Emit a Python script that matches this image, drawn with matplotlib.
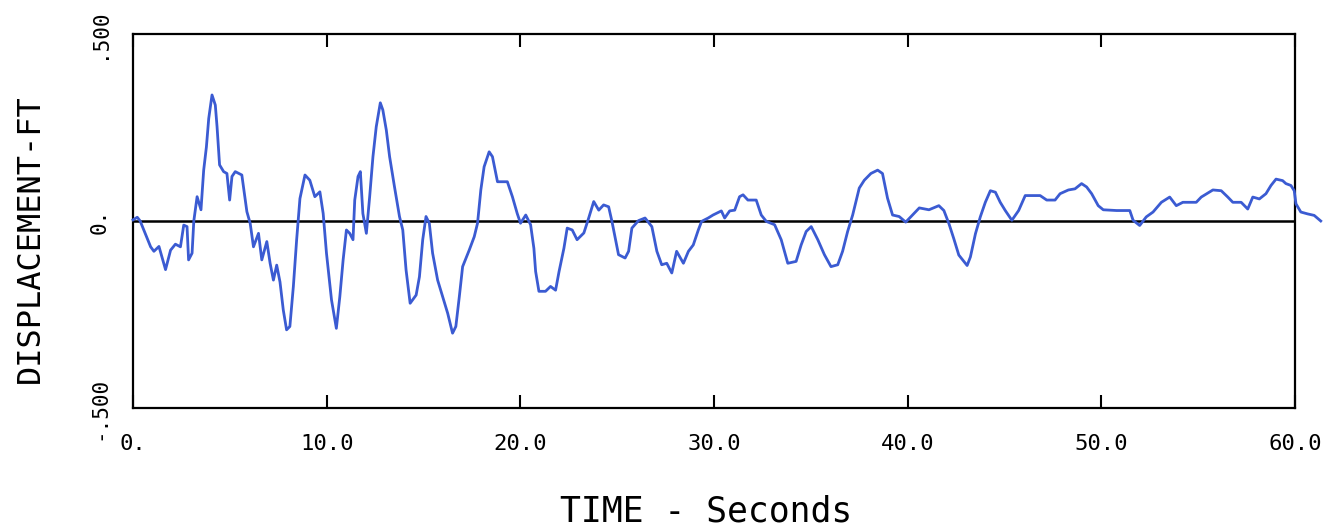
import matplotlib
matplotlib.use("Agg")
import matplotlib.pyplot as plt

plt.rcParams["font.family"] = ["DejaVu Sans Mono"]

# displacement record (seconds, feet)
time_s = [
    0.0, 0.22, 0.37, 0.91, 1.08, 1.34, 1.68, 1.94, 2.19, 2.45,
    2.62, 2.79, 2.87, 3.05, 3.14, 3.31, 3.51, 3.65, 3.79, 3.91,
    4.08, 4.25, 4.34, 4.47, 4.68, 4.85, 4.99, 5.11, 5.28, 5.62,
    5.88, 6.05, 6.22, 6.48, 6.65, 6.91, 7.08, 7.25, 7.42, 7.59,
    7.76, 7.93, 8.10, 8.28, 8.45, 8.62, 8.88, 9.13, 9.39, 9.65,
    9.82, 9.99, 10.25, 10.50, 10.68, 10.85, 11.02, 11.19, 11.36, 11.45,
    11.62, 11.74, 11.87, 12.05, 12.22, 12.39, 12.56, 12.77, 12.90, 13.08,
    13.25, 13.50, 13.76, 13.93, 14.10, 14.31, 14.62, 14.79, 14.96, 15.13,
    15.30, 15.47, 15.73, 15.99, 16.25, 16.50, 16.67, 16.85, 17.02, 17.36,
    17.62, 17.79, 17.96, 18.13, 18.39, 18.56, 18.82, 19.33, 19.59, 19.84,
    20.01,
    20.28, 20.53, 20.70, 20.79, 20.96, 21.30, 21.56, 21.82, 22.00, 22.25,
    22.42, 22.68, 22.93, 23.28, 23.53, 23.79, 24.05, 24.30, 24.56, 24.73,
    25.07, 25.41, 25.59, 25.76, 26.10, 26.44, 26.79, 27.05, 27.30, 27.56,
    27.82, 28.07, 28.42, 28.68, 28.93, 29.19, 29.36, 29.70, 29.95, 30.38,
    30.55, 30.81, 31.07, 31.32, 31.50, 31.75, 32.18, 32.44, 32.70, 33.13,
    33.47, 33.81, 34.24, 34.50, 34.76, 35.02, 35.36, 35.70, 36.04, 36.39,
    36.64, 36.90, 37.16, 37.50, 37.76, 38.10, 38.45, 38.70, 38.96, 39.22,
    39.56,
    39.90, 40.16, 40.60, 41.10, 41.61, 41.87, 42.13, 42.38, 42.64, 43.07,
    43.24, 43.50, 43.75, 44.01, 44.27, 44.53, 44.78, 45.04, 45.38, 45.73,
    46.07, 46.84, 47.18, 47.61, 47.87, 48.30, 48.64, 48.98, 49.24, 49.50,
    49.84, 50.10, 50.79, 51.47, 51.64, 51.98, 52.32, 52.67, 53.10, 53.53,
    53.87, 54.21, 54.90, 55.16, 55.76, 56.19, 56.53, 56.79, 57.22, 57.56,
    57.82, 58.16, 58.50, 58.76, 59.02, 59.36, 59.53, 59.79, 59.96, 60.05,
    60.30, 60.65, 60.99, 61.33,
]
disp_ft = [
    0.003, 0.010, 0.000, -0.069, -0.081, -0.068, -0.130, -0.078, -0.062, -0.069,
    -0.011, -0.015, -0.104, -0.086, 0.000, 0.065, 0.030, 0.136, 0.198, 0.274,
    0.337, 0.310, 0.252, 0.150, 0.132, 0.127, 0.056, 0.119, 0.132, 0.123,
    0.025, -0.006, -0.069, -0.033, -0.104, -0.055, -0.113, -0.158, -0.118, -0.163,
    -0.238, -0.291, -0.282, -0.175, -0.050, 0.060, 0.123, 0.109, 0.065, 0.078,
    0.020, -0.086, -0.211, -0.287, -0.202, -0.104, -0.024, -0.033, -0.050, 0.056,
    0.119, 0.132, 0.020, -0.033, 0.065, 0.172, 0.252, 0.316, 0.297, 0.243,
    0.172, 0.092, 0.012, -0.024, -0.131, -0.220, -0.198, -0.149, -0.050, 0.012,
    -0.006, -0.086, -0.158, -0.202, -0.247, -0.300, -0.282, -0.202, -0.122, -0.078,
    -0.042, -0.006, 0.083, 0.145, 0.185, 0.172, 0.105, 0.105, 0.065, 0.020,
    -0.006,
    0.016, -0.010, -0.073, -0.135, -0.188, -0.188, -0.175, -0.185, -0.135, -0.073,
    -0.019, -0.024, -0.050, -0.032, 0.008, 0.052, 0.029, 0.043, 0.038, -0.001,
    -0.090, -0.099, -0.081, -0.019, 0.001, 0.008, -0.015, -0.081, -0.117, -0.113,
    -0.139, -0.081, -0.113, -0.081, -0.064, -0.024, -0.001, 0.008, 0.016, 0.027,
    0.008, 0.027, 0.029, 0.065, 0.070, 0.056, 0.056, 0.016, -0.001, -0.010,
    -0.050, -0.113, -0.108, -0.064, -0.028, -0.015, -0.050, -0.090, -0.122, -0.117,
    -0.081, -0.028, 0.016, 0.088, 0.109, 0.127, 0.136, 0.127, 0.061, 0.016,
    0.012,
    -0.003, 0.011, 0.035, 0.030, 0.041, 0.028, -0.007, -0.047, -0.091, -0.119,
    -0.096, -0.034, 0.011, 0.050, 0.081, 0.077, 0.050, 0.028, 0.002, 0.028,
    0.068, 0.068, 0.056, 0.056, 0.073, 0.083, 0.086, 0.100, 0.091, 0.073,
    0.041, 0.030, 0.028, 0.028, 0.002, -0.012, 0.011, 0.024, 0.050, 0.064,
    0.041, 0.050, 0.050, 0.064, 0.083, 0.081, 0.064, 0.050, 0.050, 0.032,
    0.064, 0.059, 0.073, 0.095, 0.112, 0.108, 0.100, 0.095, 0.081, 0.046,
    0.024, 0.019, 0.015, 0.000,
]

x_ticks = [0, 10, 20, 30, 40, 50, 60]
x_labels = ["0.", "10.0", "20.0", "30.0", "40.0", "50.0", "60.0"]
y_ticks = [-0.5, 0.0, 0.5]
y_labels = ["-.500", "0.", ".500"]

fig = plt.figure(figsize=(13.25, 5.29), dpi=100)
ax = fig.add_axes([133 / 1325, 1 - 408 / 529, 1162 / 1325, 374 / 529])

ax.plot(time_s, disp_ft, color="#3b5bd2", lw=2.0, clip_on=False, zorder=3)
ax.axhline(0, color="black", lw=1.8, zorder=2)

ax.set_xlim(0, 60)
ax.set_ylim(-0.5, 0.5)
ax.set_xticks(x_ticks)
ax.set_xticklabels(x_labels, fontsize=16)
ax.set_yticks(y_ticks)
ax.set_yticklabels(y_labels, fontsize=15, rotation=90, va="center")
ax.tick_params(axis="x", direction="in", top=True, length=9.5, width=1.5, pad=19)
ax.tick_params(axis="y", length=0, pad=17)
for s in ax.spines.values():
    s.set_linewidth(1.6)

fig.text(706 / 1325, 1 - 511 / 529, "TIME - Seconds", fontsize=25,
         ha="center", va="center")
fig.text(30 / 1325, 1 - 239 / 529, "DISPLACEMENT-FT", fontsize=23,
         rotation=90, ha="center", va="center")

fig.savefig("out.png", dpi=100, facecolor="white")
